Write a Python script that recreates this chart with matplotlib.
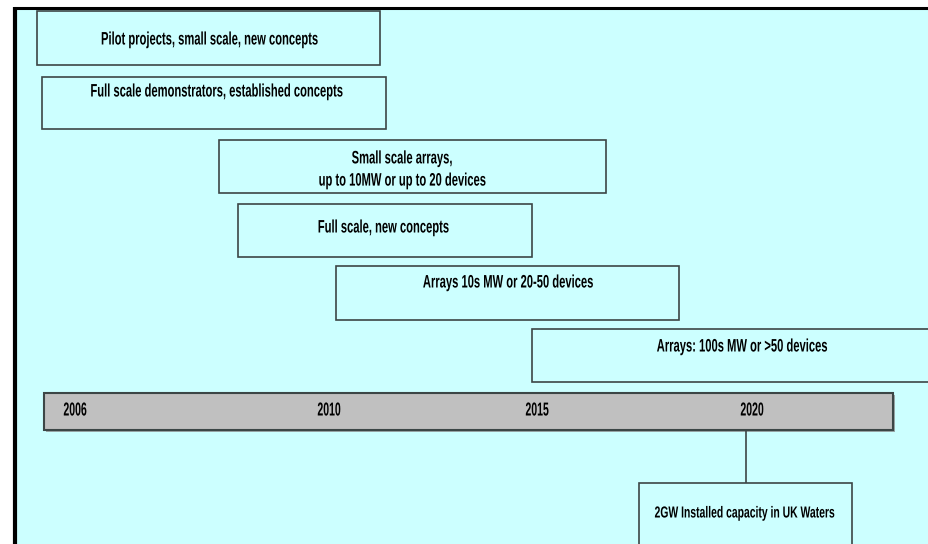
import matplotlib
matplotlib.use("Agg")
import matplotlib.pyplot as plt
from matplotlib.patches import Rectangle
from matplotlib.patheffects import AbstractPathEffect
from matplotlib.transforms import Affine2D

# ---- data ----
stage_labels = [
    "Pilot projects, small scale, new concepts",
    "Full scale demonstrators, established concepts",
    "Small scale arrays,\nup to 10MW or up to 20 devices",
    "Full scale, new concepts",
    "Arrays 10s MW or 20-50 devices",
    "Arrays: 100s MW or >50 devices",
]
stage_x0 = [37, 42, 219, 238, 336, 532]
stage_x1 = [380, 386, 606, 532, 679, 940]
stage_y0 = [11, 77, 140, 204, 266, 329]
stage_y1 = [65, 129, 193, 257, 320, 382]
stage_text_x = [209, 216, 402, 383, 508, 742]
stage_text_y = [40, 92, 170, 228, 283, 347]

year_labels = ["2006", "2010", "2015", "2020"]
year_x = [75, 329, 537, 752]

milestone_label = "2GW Installed capacity in UK Waters"
milestone_year_x = 746
milestone_box = (639, 852, 483, 560)

timeline_x = (44, 893)
timeline_y = (393, 430)

# ---- style ----
BG = "#ccffff"
EDGE = "#3c4646"
FONT = ["Liberation Sans", "DejaVu Sans"]


class Squeeze(AbstractPathEffect):
    """Horizontally condense glyphs (narrow font look) about each line's centre."""
    def __init__(self, sx):
        super().__init__()
        self.sx = sx

    def draw_path(self, renderer, gc, tpath, affine, rgbFace=None):
        ext = tpath.get_extents()
        cx = (ext.x0 + ext.x1) / 2
        t = Affine2D().translate(-cx, 0).scale(self.sx, 1).translate(cx, 0) + affine
        renderer.draw_path(gc, tpath, t, rgbFace)


fig = plt.figure(figsize=(9.29, 5.44), dpi=100)
fig.patch.set_facecolor("white")
ax = fig.add_axes([0, 0, 1, 1])
ax.set_xlim(0, 929)
ax.set_ylim(544, 0)
ax.axis("off")

# panel background and borders
ax.add_patch(Rectangle((15, 7), 929 - 15, 544 - 7, facecolor=BG, edgecolor="none", zorder=0))
ax.plot([15, 15], [7, 544], color="black", lw=3.0, zorder=1, solid_capstyle="butt")
ax.plot([14, 929], [7.5, 7.5], color="black", lw=2.2, zorder=1, solid_capstyle="butt")

# stage boxes
for lab, x0, x1, y0, y1, tx, ty in zip(stage_labels, stage_x0, stage_x1, stage_y0, stage_y1,
                                       stage_text_x, stage_text_y):
    ax.add_patch(Rectangle((x0, y0), x1 - x0, y1 - y0, facecolor=BG, edgecolor=EDGE,
                           lw=1.2, zorder=2))
    ax.text(tx, ty, lab, ha="center", va="center", fontsize=13, fontweight="bold",
            family=FONT, color="black", zorder=3, linespacing=1.4,
            path_effects=[Squeeze(0.62)])

# timeline bar with shadow
tx0, tx1 = timeline_x
ty0, ty1 = timeline_y
ax.add_patch(Rectangle((tx0 + 2, ty0 + 2), tx1 - tx0, ty1 - ty0, facecolor="#9aa8a8",
                       edgecolor="none", zorder=2))
ax.add_patch(Rectangle((tx0, ty0), tx1 - tx0, ty1 - ty0, facecolor="#c0c0c0",
                       edgecolor=EDGE, lw=1.5, zorder=3))
for lab, x in zip(year_labels, year_x):
    ax.text(x, 411, lab, ha="center", va="center", fontsize=13.5, fontweight="bold",
            family=FONT, color="black", zorder=4, path_effects=[Squeeze(0.56)])

# milestone
mx0, mx1, my0, my1 = milestone_box
ax.plot([milestone_year_x, milestone_year_x], [ty1, my0], color=EDGE, lw=1.2, zorder=2)
ax.add_patch(Rectangle((mx0, my0), mx1 - mx0, my1 - my0, facecolor=BG, edgecolor=EDGE,
                       lw=1.2, zorder=2))
ax.text((mx0 + mx1) / 2, 513, milestone_label, ha="center", va="center", fontsize=11.5,
        fontweight="bold", family=FONT, color="black", zorder=3,
        path_effects=[Squeeze(0.65)])

fig.savefig("out.png", dpi=100, facecolor="white")
